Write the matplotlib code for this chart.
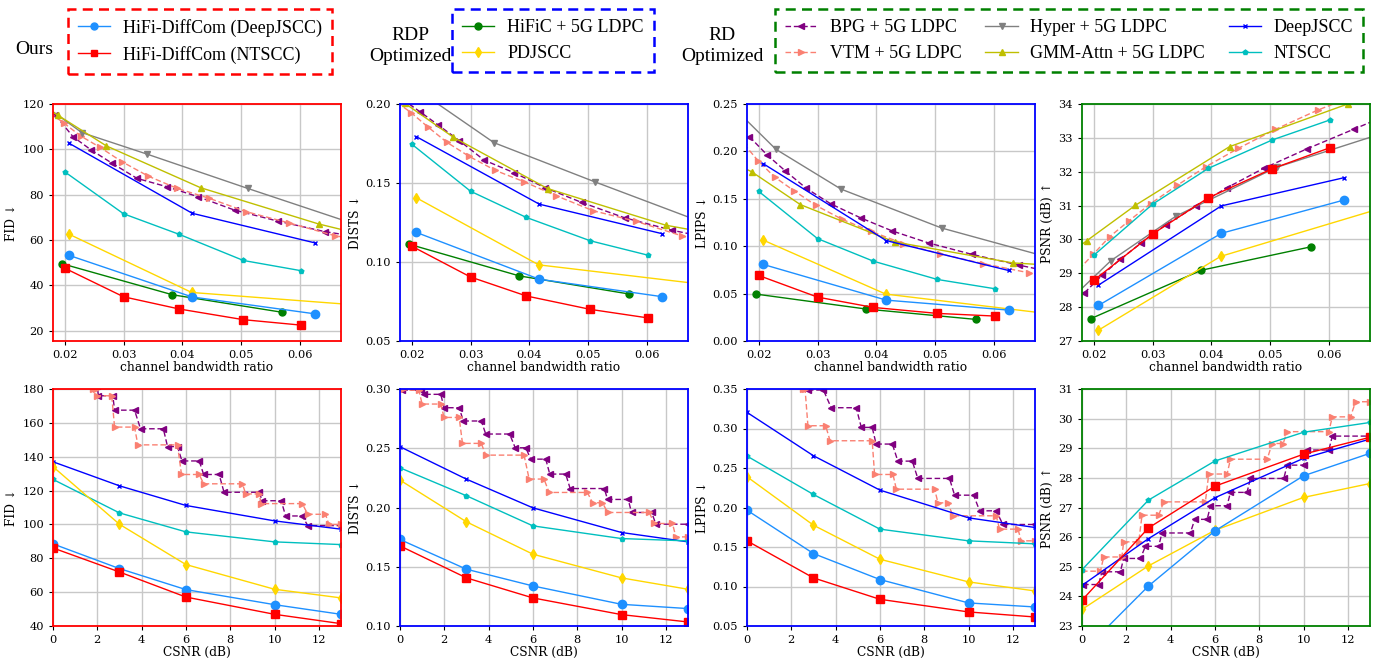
import matplotlib
matplotlib.use("Agg")
import matplotlib.pyplot as plt
from matplotlib.lines import Line2D

plt.rcParams['font.family'] = ['DejaVu Serif', 'DejaVu Sans']
plt.rcParams['font.size'] = 8

# ---------------- data: top row (channel bandwidth ratio) ----------------
cbr_ours_d = [0.0208, 0.0417, 0.0625]
cbr_ours_n = [0.0200, 0.0300, 0.0395, 0.0504, 0.0602]
cbr_hific = [0.0195, 0.0383, 0.0569]
cbr_pdjscc = [0.0208, 0.0416, 0.0833]
cbr_bpg = [0.0184, 0.0214, 0.0245, 0.0281, 0.0323, 0.0374, 0.0427, 0.0489, 0.0562, 0.0643, 0.0735]
cbr_vtm = [0.0175, 0.0199, 0.0227, 0.0260, 0.0297, 0.0342, 0.0391, 0.0446, 0.0509, 0.0581, 0.0660, 0.0750]
cbr_hyper = [0.0155, 0.0229, 0.0340, 0.0511, 0.0768]
cbr_gmm = [0.0150, 0.0188, 0.0271, 0.0431, 0.0632, 0.0800]

fid_cbr = {
    'bpg': [115.1, 105.6, 99.7, 93.8, 87.2, 83.5, 79.1, 73.2, 68.4, 63.7, 60.0],
    'vtm': [116.0, 111.5, 105.9, 100.9, 94.6, 88.2, 82.8, 78.4, 72.5, 67.6, 61.9, 58.0],
    'hyper': [121.3, 107.4, 97.9, 82.8, 60.6],
    'gmm': [121.2, 115.1, 101.5, 83.1, 67.1, 56.5],
    'deepjscc': [102.6, 71.8, 58.8],
    'ntscc': [90.1, 71.6, 62.5, 51.0, 46.5],
    'hific': [49.6, 35.9, 28.2],
    'pdjscc': [62.5, 36.9, 28.7],
    'ours_d': [53.2, 34.9, 27.5],
    'ours_n': [47.6, 35.0, 29.6, 24.9, 22.5],
}
dists_cbr = {
    'bpg': [0.2030, 0.1951, 0.1867, 0.1768, 0.1645, 0.1565, 0.1470, 0.1377, 0.1280, 0.1201, 0.1130],
    'vtm': [0.2010, 0.1945, 0.1856, 0.1757, 0.1670, 0.1580, 0.1508, 0.1419, 0.1324, 0.1258, 0.1165, 0.1090],
    'hyper': [0.2250, 0.2040, 0.1755, 0.1508, 0.1148],
    'gmm': [0.2100, 0.2005, 0.1789, 0.1465, 0.1233, 0.1120],
    'deepjscc': [0.1793, 0.1366, 0.1180],
    'ntscc': [0.1746, 0.1448, 0.1282, 0.1134, 0.1043],
    'hific': [0.1113, 0.0912, 0.0798],
    'pdjscc': [0.1406, 0.0982, 0.0798],
    'ours_d': [0.1187, 0.0891, 0.0781],
    'ours_n': [0.1100, 0.0905, 0.0785, 0.0700, 0.0646],
}
lpips_cbr = {
    'bpg': [0.2156, 0.1964, 0.1795, 0.1610, 0.1445, 0.1297, 0.1161, 0.1034, 0.0915, 0.0800, 0.0680],
    'vtm': [0.2077, 0.1900, 0.1729, 0.1585, 0.1431, 0.1283, 0.1157, 0.1027, 0.0919, 0.0817, 0.0719, 0.0640],
    'hyper': [0.2476, 0.2023, 0.1602, 0.1192, 0.0755],
    'gmm': [0.1900, 0.1785, 0.1438, 0.1045, 0.0824, 0.0760],
    'deepjscc': [0.1869, 0.1059, 0.0744],
    'ntscc': [0.1578, 0.1080, 0.0842, 0.0649, 0.0551],
    'hific': [0.0495, 0.0337, 0.0228],
    'pdjscc': [0.1063, 0.0495, 0.0183],
    'ours_d': [0.0807, 0.0431, 0.0326],
    'ours_n': [0.0691, 0.0463, 0.0354, 0.0291, 0.0263],
}
psnr_cbr = {
    'bpg': [28.42, 28.94, 29.41, 29.90, 30.44, 30.98, 31.53, 32.10, 32.67, 33.26, 33.93],
    'vtm': [29.12, 29.56, 30.08, 30.55, 31.06, 31.60, 32.15, 32.69, 33.25, 33.82, 34.35, 34.80],
    'hyper': [28.14, 29.37, 30.69, 32.13, 33.56],
    'gmm': [29.48, 29.96, 31.01, 32.74, 34.00, 34.50],
    'deepjscc': [28.65, 30.99, 31.82],
    'ntscc': [29.53, 31.04, 32.10, 32.94, 33.53],
    'hific': [27.66, 29.09, 29.78],
    'pdjscc': [27.32, 29.50, 31.67],
    'ours_d': [28.05, 30.18, 31.16],
    'ours_n': [28.79, 30.16, 31.23, 32.09, 32.71],
}

# ---------------- data: bottom row (CSNR) ----------------
csnr = [0, 3, 6, 10, 13]

fid_snr = {
    'deepjscc': [137.0, 122.8, 111.2, 102.1, 97.2],
    'ntscc': [126.6, 106.8, 95.6, 89.7, 88.1],
    'pdjscc': [134.1, 100.1, 76.3, 61.7, 56.6],
    'ours_d': [88.5, 73.9, 61.5, 52.6, 46.9],
    'ours_n': [86.1, 71.9, 57.1, 46.9, 41.4],
}
dists_snr = {
    'deepjscc': [0.2513, 0.2239, 0.1997, 0.1789, 0.1710],
    'ntscc': [0.2335, 0.2099, 0.1845, 0.1738, 0.1718],
    'pdjscc': [0.2231, 0.1879, 0.1606, 0.1406, 0.1310],
    'ours_d': [0.1730, 0.1479, 0.1338, 0.1183, 0.1147],
    'ours_n': [0.1676, 0.1406, 0.1237, 0.1096, 0.1034],
}
lpips_snr = {
    'deepjscc': [0.3204, 0.2655, 0.2220, 0.1869, 0.1747],
    'ntscc': [0.2651, 0.2165, 0.1726, 0.1578, 0.1540],
    'pdjscc': [0.2389, 0.1776, 0.1345, 0.1058, 0.0944],
    'ours_d': [0.1966, 0.1417, 0.1088, 0.0792, 0.0741],
    'ours_n': [0.1578, 0.1109, 0.0838, 0.0678, 0.0614],
}
psnr_snr = {
    'deepjscc': [24.37, 25.95, 27.33, 28.66, 29.31],
    'ntscc': [24.90, 27.25, 28.57, 29.54, 29.87],
    'pdjscc': [23.56, 25.03, 26.23, 27.34, 27.81],
    'ours_d': [22.10, 24.35, 26.21, 28.07, 28.83],
    'ours_n': [23.87, 26.31, 27.72, 28.80, 29.37],
}

# staircase curves of the separated schemes: (snr start, snr end, level)
bpg_fid_steps = [(1.80, 2.00, 182), (2.05, 2.70, 176), (2.78, 3.68, 167.5), (3.95, 4.98, 156.5),
                 (5.17, 5.62, 146), (5.82, 6.60, 137.5), (6.80, 7.50, 129.5), (7.72, 9.30, 119),
                 (9.45, 10.30, 114), (10.50, 11.25, 105), (11.50, 13.0, 99.3)]
vtm_fid_steps = [(1.80, 1.95, 180), (2.00, 2.65, 176), (2.78, 3.68, 157.5), (3.83, 5.62, 147),
                 (5.80, 6.60, 129.5), (6.80, 8.55, 124), (8.70, 9.30, 118), (9.40, 11.25, 112.3),
                 (11.50, 12.30, 106), (12.45, 13.0, 100)]
bpg_dists_steps = [(0.10, 0.93, 0.299), (1.08, 1.84, 0.2955), (1.99, 2.67, 0.2842), (2.86, 3.67, 0.2730),
                   (3.87, 4.95, 0.2620), (5.20, 5.68, 0.2504), (5.90, 6.58, 0.2408), (6.76, 7.48, 0.2282),
                   (7.68, 9.22, 0.2160), (9.37, 10.30, 0.2068), (10.45, 11.36, 0.1958), (11.55, 13.0, 0.1859)]
vtm_dists_steps = [(0.05, 0.85, 0.299), (1.00, 1.84, 0.2873), (1.99, 2.67, 0.2760), (2.82, 3.67, 0.2541),
                   (3.87, 5.60, 0.2442), (5.83, 6.50, 0.2240), (6.73, 8.46, 0.2127), (8.69, 9.14, 0.2040),
                   (9.37, 11.25, 0.1958), (11.48, 12.30, 0.1865), (12.45, 13.0, 0.1752)]
bpg_lpips_steps = [(2.75, 3.45, 0.3487), (3.80, 4.93, 0.3263), (5.16, 5.65, 0.3014), (5.83, 6.56, 0.2803),
                   (6.81, 7.46, 0.2587), (7.71, 9.14, 0.2368), (9.37, 10.23, 0.2156), (10.50, 11.25, 0.1958),
                   (11.55, 13.0, 0.1785)]
vtm_lpips_steps = [(2.55, 2.62, 0.3500), (2.75, 3.55, 0.3035), (3.75, 5.65, 0.2845), (5.76, 6.59, 0.2418),
                   (6.74, 8.47, 0.2232), (8.62, 9.07, 0.2059), (9.29, 11.25, 0.1895), (11.40, 12.23, 0.1726),
                   (12.38, 13.0, 0.1578)]
bpg_psnr_steps = [(0.05, 0.75, 24.40), (0.90, 1.73, 24.83), (1.88, 2.64, 25.28), (2.86, 3.46, 25.69),
                  (3.61, 4.89, 26.14), (5.09, 5.65, 26.60), (5.80, 6.55, 27.06), (6.70, 7.45, 27.51),
                  (7.60, 9.11, 27.98), (9.26, 10.00, 28.43), (10.16, 11.14, 28.94), (11.30, 13.0, 29.41)]
vtm_psnr_steps = [(0.00, 0.83, 24.85), (0.98, 1.80, 25.33), (1.88, 2.56, 25.84), (2.71, 3.46, 26.74),
                  (3.69, 5.57, 27.19), (5.72, 6.55, 28.13), (6.70, 8.36, 28.63), (8.58, 9.08, 29.16),
                  (9.26, 11.14, 29.56), (11.30, 12.12, 30.06), (12.35, 13.0, 30.57)]

# ---------------- styles ----------------
styles = {
    'bpg': dict(color='purple', marker='<', ls='--', ms=4, label='BPG + 5G LDPC'),
    'vtm': dict(color='salmon', marker='>', ls='--', ms=4, label='VTM + 5G LDPC'),
    'hyper': dict(color='gray', marker='v', ls='-', ms=4, label='Hyper + 5G LDPC'),
    'gmm': dict(color='#BFBF00', marker='^', ls='-', ms=4, label='GMM-Attn + 5G LDPC'),
    'deepjscc': dict(color='blue', marker='x', ls='-', ms=3.5, label='DeepJSCC'),
    'ntscc': dict(color='#00BFBF', marker='p', ls='-', ms=3.5, label='NTSCC'),
    'hific': dict(color='green', marker='o', ls='-', ms=5, label='HiFiC + 5G LDPC'),
    'pdjscc': dict(color='gold', marker='d', ls='-', ms=5.5, label='PDJSCC'),
    'ours_d': dict(color='#1E90FF', marker='o', ls='-', ms=6, label='HiFi-DiffCom (DeepJSCC)'),
    'ours_n': dict(color='red', marker='s', ls='-', ms=6, label='HiFi-DiffCom (NTSCC)'),
}
cbr_x = {'bpg': cbr_bpg, 'vtm': cbr_vtm, 'hyper': cbr_hyper, 'gmm': cbr_gmm,
         'deepjscc': cbr_ours_d, 'ntscc': cbr_ours_n, 'hific': cbr_hific,
         'pdjscc': cbr_pdjscc, 'ours_d': cbr_ours_d, 'ours_n': cbr_ours_n}
order = ['bpg', 'vtm', 'hyper', 'gmm', 'deepjscc', 'ntscc', 'hific', 'pdjscc', 'ours_d', 'ours_n']


def plot_line(ax, key, x, y):
    st = styles[key]
    dash = (0, (4, 2)) if st['ls'] == '--' else '-'
    ax.plot(x, y, color=st['color'], marker=st['marker'], ls=dash, ms=st['ms'], lw=1.0, mew=1.0)


def steps_xy(steps):
    xs, ys = [], []
    for a, b, v in steps:
        xs += [a, b]
        ys += [v, v]
    return xs, ys


fig = plt.figure(figsize=(13.79, 6.6), dpi=100)
lefts = [53, 400, 747, 1082]
tops = [104, 389]
W, H = 288, 237
axes = [[fig.add_axes([l / 1379, 1 - (t + H) / 660, W / 1379, H / 660]) for l in lefts] for t in tops]
spine_cols = ['red', 'blue', 'blue', 'green']

top_data = [fid_cbr, dists_cbr, lpips_cbr, psnr_cbr]
top_ylims = [(15.5, 120), (0.05, 0.20), (0.0, 0.25), (27, 34)]
top_yticks = [[20, 40, 60, 80, 100, 120], [0.05, 0.10, 0.15, 0.20],
              [0.0, 0.05, 0.10, 0.15, 0.20, 0.25], [27, 28, 29, 30, 31, 32, 33, 34]]
ylabels = ['FID \u2193', 'DISTS \u2193', 'LPIPS \u2193', 'PSNR (dB) \u2191']
top_fmt = ['{:.0f}', '{:.2f}', '{:.2f}', '{:.0f}']

for i, ax in enumerate(axes[0]):
    d = top_data[i]
    for k in order:
        plot_line(ax, k, cbr_x[k], d[k])
    ax.set_xlim(0.018, 0.067)
    ax.set_ylim(*top_ylims[i])
    ax.set_xticks([0.02, 0.03, 0.04, 0.05, 0.06])
    ax.set_xticklabels(['0.02', '0.03', '0.04', '0.05', '0.06'])
    ax.set_yticks(top_yticks[i])
    ax.set_yticklabels([top_fmt[i].format(v) for v in top_yticks[i]])
    ax.set_xlabel('channel bandwidth ratio', labelpad=1, fontsize=8.8)

bot_data = [fid_snr, dists_snr, lpips_snr, psnr_snr]
bot_steps = [(bpg_fid_steps, vtm_fid_steps), (bpg_dists_steps, vtm_dists_steps),
             (bpg_lpips_steps, vtm_lpips_steps), (bpg_psnr_steps, vtm_psnr_steps)]
bot_ylims = [(40, 180), (0.10, 0.30), (0.05, 0.35), (23, 31)]
bot_yticks = [list(range(40, 181, 20)), [0.10, 0.15, 0.20, 0.25, 0.30],
              [0.05, 0.10, 0.15, 0.20, 0.25, 0.30, 0.35], list(range(23, 32))]

for i, ax in enumerate(axes[1]):
    bs, vs = bot_steps[i]
    plot_line(ax, 'bpg', *steps_xy(bs))
    plot_line(ax, 'vtm', *steps_xy(vs))
    d = bot_data[i]
    for k in ['deepjscc', 'ntscc', 'pdjscc', 'ours_d', 'ours_n']:
        plot_line(ax, k, csnr, d[k])
    ax.set_xlim(0, 13)
    ax.set_ylim(*bot_ylims[i])
    ax.set_xticks([0, 2, 4, 6, 8, 10, 12])
    ax.set_yticks(bot_yticks[i])
    ax.set_yticklabels([top_fmt[i].format(v) for v in bot_yticks[i]])
    ax.set_xlabel('CSNR (dB)', labelpad=1, fontsize=8.8)

for row in axes:
    for i, ax in enumerate(row):
        ax.grid(True, color='#c8c8c8', lw=1.0)
        ax.set_axisbelow(True)
        ax.set_ylabel(ylabels[i], labelpad=3, fontsize=8.8)
        ax.tick_params(labelsize=8.2, length=3)
        for s in ax.spines.values():
            s.set_color(spine_cols[i])
            s.set_linewidth(1.3)


# ---------------- legends ----------------
def handle(k):
    st = styles[k]
    dash = (0, (4, 2)) if st['ls'] == '--' else '-'
    return Line2D([], [], color=st['color'], marker=st['marker'], ls=dash,
                  ms=min(st['ms'], 5), lw=1.0, label=st['label'])


leg_font = {'family': 'Liberation Serif', 'size': 13}
leg_kw = dict(prop=leg_font, loc='upper left', bbox_transform=fig.transFigure, fancybox=False,
              framealpha=1, handlelength=1.8, handletextpad=0.7, borderpad=0.55,
              labelspacing=0.5, borderaxespad=0)


def boxed(keys, pos, color, ncol=1, colspace=1.0):
    leg = fig.legend(handles=[handle(k) for k in keys], bbox_to_anchor=pos, ncol=ncol,
                     columnspacing=colspace, **leg_kw)
    fr = leg.get_frame()
    fr.set_edgecolor(color)
    fr.set_linestyle((0, (4, 2.5)))
    fr.set_linewidth(1.8)
    return leg


boxed(['ours_d', 'ours_n'], (68 / 1379, 1 - 9 / 660), 'red')
boxed(['hific', 'pdjscc'], (452 / 1379, 1 - 9 / 660), 'blue')
boxed(['bpg', 'vtm', 'hyper', 'gmm', 'deepjscc', 'ntscc'], (775 / 1379, 1 - 9 / 660), 'green',
      ncol=3, colspace=1.3)

txt_font = dict(family='Liberation Serif', size=14, ha='center', va='center')
fig.text(34 / 1379, 1 - 50 / 660, 'Ours', **txt_font)
fig.text(410 / 1379, 1 - 46 / 660, 'RDP\nOptimized', linespacing=1.3, **txt_font)
fig.text(722 / 1379, 1 - 46 / 660, 'RD\nOptimized', linespacing=1.3, **txt_font)

fig.savefig('out.png', dpi=100)
